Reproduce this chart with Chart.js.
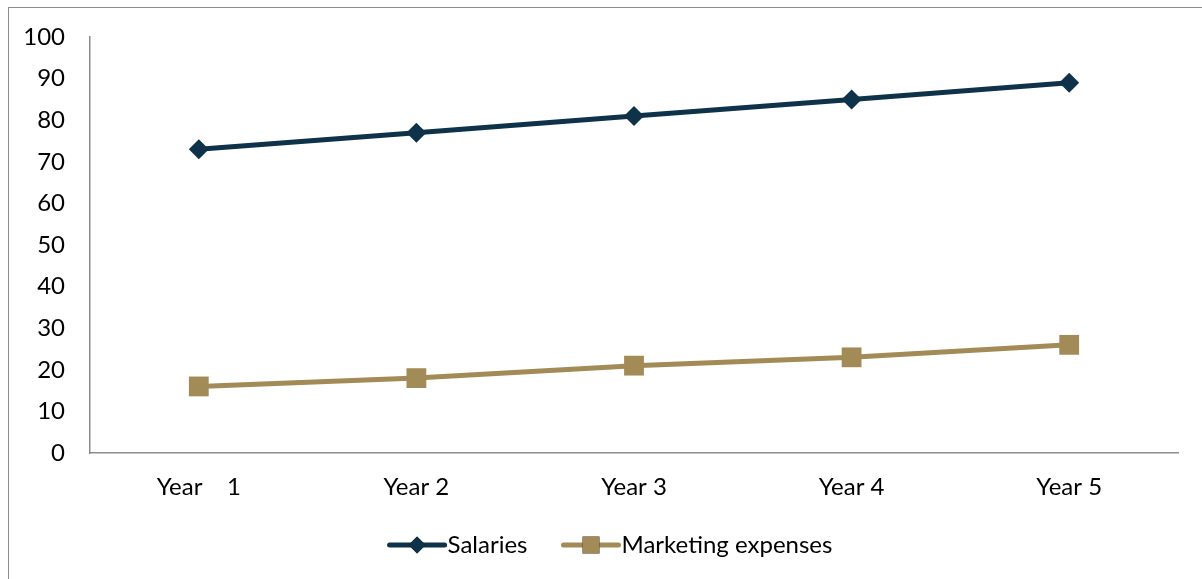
<!DOCTYPE html>
<html>
<head>
<meta charset="utf-8">
<script src="https://cdn.jsdelivr.net/npm/chart.js@4"></script>
<style>
  html, body { margin: 0; padding: 0; background: #fff; }
  #wrap { position: relative; width: 1202px; height: 579px; overflow: hidden; }
  #frame { position: absolute; left: 8px; top: 7px; right: -2px; bottom: -2px;
           border-left: 1px solid #8c8c8c; border-top: 1px solid #8c8c8c; }
  canvas { position: absolute; left: 0; top: 0; }
</style>
</head>
<body>
<div id="wrap">
  <div id="frame"></div>
  <canvas id="c" width="1202" height="579"></canvas>
</div>
<script>
// Categories and series
const years = ['Year    1', 'Year 2', 'Year 3', 'Year 4', 'Year 5'];
const salaries = [73, 77, 81, 85, 89];
const marketing = [16, 18, 21, 23, 26];
const seriesNames = ['Salaries', 'Marketing expenses'];
const seriesColors = ['#0d3249', '#a38b57'];
const seriesMarkers = ['rectRot', 'rect'];

const FONT = 'Lato, "Open Sans", sans-serif';
const FONT_SIZE = 24;

// Legend drawn below the axis: a short line with the series marker, then the name
const lineLegend = {
  id: 'lineLegend',
  afterDraw(chart) {
    const ctx = chart.ctx;
    ctx.save();
    ctx.font = FONT_SIZE + 'px ' + FONT;
    ctx.textBaseline = 'middle';
    const y = 545;
    const segW = 55, gap = 3, between = 36;
    const widths = seriesNames.map(n => segW + gap + ctx.measureText(n).width);
    const total = widths.reduce((a, b) => a + b, 0) + between * (seriesNames.length - 1);
    let x = (chart.width - total) / 2 + 10;
    chart.data.datasets.forEach((ds, i) => {
      ctx.strokeStyle = ds.borderColor;
      ctx.lineWidth = 5;
      ctx.lineCap = 'round';
      ctx.beginPath();
      ctx.moveTo(x, y);
      ctx.lineTo(x + segW, y);
      ctx.stroke();
      Chart.helpers.drawPoint(ctx, {
        pointStyle: ds.pointStyle,
        radius: ds.pointRadius * 0.85,
        borderWidth: 0
      }, x + segW / 2, y);
      ctx.fillStyle = ds.borderColor;
      ctx.fill();
      ctx.fillStyle = '#000';
      ctx.textAlign = 'left';
      ctx.fillText(seriesNames[i], x + segW + gap, y);
      x += widths[i] + between;
    });
    ctx.restore();
  }
};

new Chart(document.getElementById('c'), {
  type: 'line',
  data: {
    labels: years,
    datasets: [salaries, marketing].map((vals, i) => ({
      label: seriesNames[i],
      data: vals,
      borderColor: seriesColors[i],
      backgroundColor: seriesColors[i],
      borderWidth: 5,
      pointStyle: seriesMarkers[i],
      pointRadius: i === 0 ? 10 : 14,
      pointBorderWidth: 0,
      tension: 0
    }))
  },
  options: {
    responsive: false,
    animation: false,
    devicePixelRatio: 1,
    layout: { padding: { top: 37, right: 24, left: 0, bottom: 0 } },
    plugins: { legend: { display: false }, tooltip: { enabled: false } },
    scales: {
      x: {
        offset: true,
        grid: { display: false, drawTicks: false },
        border: { display: true, color: '#8c8c8c', width: 1.5 },
        ticks: { color: '#000', font: { family: FONT, size: FONT_SIZE }, padding: 20, maxRotation: 0 },
        afterFit(scale) { scale.height = 126; scale.paddingLeft = 0; scale.paddingRight = 0; }
      },
      y: {
        min: 0, max: 100,
        grid: { display: false, drawTicks: false },
        border: { display: true, color: '#8c8c8c', width: 1.5 },
        ticks: { stepSize: 10, color: '#000', font: { family: FONT, size: FONT_SIZE }, padding: 25 },
        afterFit(scale) { scale.width = 90; scale.paddingTop = 0; scale.paddingBottom = 0; }
      }
    }
  },
  plugins: [lineLegend]
});
</script>
</body>
</html>
